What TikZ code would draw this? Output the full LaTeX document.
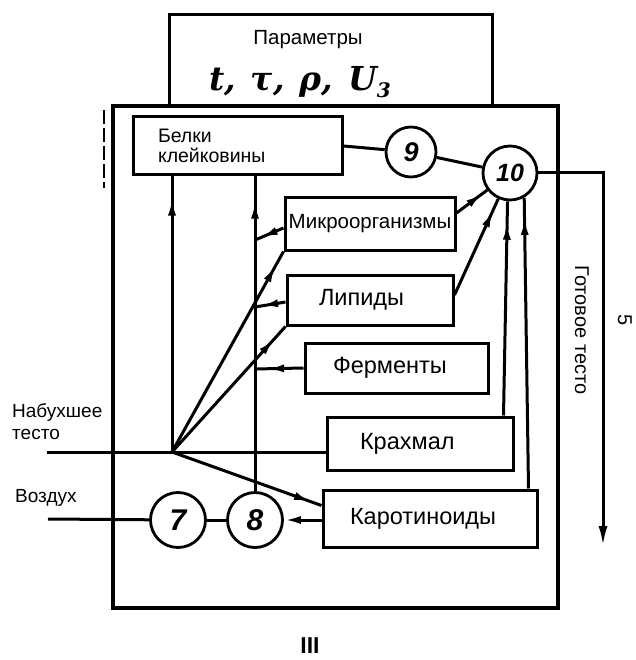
\documentclass[tikz,border=0pt]{standalone}
\usepackage{fontspec}
\setmainfont{Liberation Sans}
\newfontfamily\symserif{DejaVu Serif}
\usetikzlibrary{arrows.meta,decorations.markings,calc}
\begin{document}
\begin{tikzpicture}[x=1pt,y=-1pt,
  box/.style={draw, line width=3pt, inner sep=0pt, font=\fontsize{23.5}{26}\selectfont},
  num/.style={draw, circle, line width=2.8pt, inner sep=0pt, font=\fontsize{30}{30}\selectfont\bfseries\itshape},
  conn/.style={line width=3pt},
  lbl/.style={inner sep=0pt, font=\fontsize{19}{22}\selectfont},
  symlbl/.style={inner sep=0pt, font=\symserif\fontsize{33}{34}\selectfont\bfseries\itshape},
  tipat/.style={postaction={decorate}, decoration={markings, mark=at position #1 with {\arrow{Latex[length=17pt,width=8pt]}}}},
]
\useasboundingbox (0,0) rectangle (635,660);

% parameters box
\node[draw, line width=3pt, minimum width=323pt, minimum height=91pt, inner sep=0pt] (parbox) at (330.5,60.5) {};
\node[lbl, font=\fontsize{20.5}{22}\selectfont] (parlbl) at (308,40) {Параметры};
\node[symlbl] (parsym) at (300,82) {t,\hspace{15pt}τ,\hspace{15pt}ρ,\hspace{15pt}U\raisebox{-7pt}{\fontsize{20}{20}\selectfont 3}};

% main box
\node[draw, line width=3.4pt, minimum width=445pt, minimum height=502pt, inner sep=0pt] (mainbox) at (335.5,357) {};

% component boxes
\node[box, font=\fontsize{19.5}{20}\selectfont, text width=159pt, align=left, inner xsep=25pt, minimum height=58pt] (bel) at (237.5,146) {Белки\\клейковины};
\node[box, font=\fontsize{20.5}{22}\selectfont, minimum width=170pt, minimum height=52pt] (mic) at (370,224) {Микроорганизмы};
\node[box, text width=102pt, align=left, inner xsep=32pt, minimum height=50pt] (lip) at (370,300) {Липиды};
\node[box, text width=127pt, align=left, inner xsep=28pt, minimum height=50pt] (fer) at (396.5,368) {Ферменты};
\node[box, text width=120pt, align=left, inner xsep=33pt, minimum height=53pt] (kr) at (420,443.5) {Крахмал};
\node[box, text width=160pt, align=left, inner xsep=27pt, minimum height=57pt] (kar) at (430,518.5) {Каротиноиды};

% circles
\node[num, minimum size=55pt] (c7) at (178,520) {7};
\node[num, minimum size=55pt] (c8) at (255,520) {8};
\node[num, minimum size=50pt, font=\fontsize{27}{27}\selectfont\bfseries\itshape] (c9) at (411,152) {9};
\node[num, minimum size=54pt, font=\fontsize{25}{25}\selectfont\bfseries\itshape] (c10) at (510,173) {10};

% coordinates
\coordinate (nin) at (47,452);
\coordinate (J) at (172,452);
\coordinate (vin) at (48,519);
\coordinate (m1) at (255,240);
\coordinate (l1) at (255,307);
\coordinate (f1) at (255,369);
\coordinate (o1) at (603,173);
\coordinate (o2) at (603,546);
\coordinate (d1) at (104,110);
\coordinate (d2) at (104,188);

% connectors
\draw[conn] (nin) -- (nin -| kr.west);
\draw[conn] (vin) -- (c7);
\draw[conn] (c7) -- (c8);
\draw[conn, -{Latex[length=17pt,width=8pt]}] (kar.west |- c8) -- (c8);
\draw[conn, tipat=0.92] (J) -- (J |- bel.south);
\draw[conn, tipat=0.92] (c8) -- (c8 |- bel.south);
\draw[conn, tipat=0.93] (J) -- (mic.south west);
\draw[conn, tipat=0.9] (J) -- (lip.south west);
\draw[conn, tipat=0.93] (J) -- ($(kar.west)+(0,-13)$);
\draw[conn, tipat=0.8] ($(mic.west)+(0,4)$) -- (m1);
\draw[conn, tipat=0.8] ($(lip.west)+(0,2)$) -- (l1);
\draw[conn, tipat=0.75] (fer.west) -- (f1);
\draw[conn, tipat=0.85] ($(mic.east)+(0,-11)$) -- (c10);
\draw[conn, tipat=0.88] ($(lip.east)+(0,-5)$) -- (c10);
\draw[conn, tipat=0.9] ($(kr.north east)+(-11,0)$) -- (c10.-95);
\draw[conn, tipat=0.93] ($(kar.north east)+(-10,0)$) -- (c10.-60);
\draw[conn] (bel.east) -- (c9);
\draw[conn] (c9) -- (c10);
\draw[conn, -{Latex[length=20pt,width=9pt]}] (c10) -- (o1) -- (o2);
\draw[line width=1.2pt, dash pattern=on 14pt off 4pt] (d1) -- (d2);

% labels
\node[lbl, align=left, anchor=west] (nab) at (12,422) {Набухшее\\тесто};
\node[lbl, anchor=west] (voz) at (15,498) {Воздух};
\node[lbl, font=\fontsize{20}{22}\selectfont, rotate=-90] (got) at (582,330) {Готовое тесто};
\node[lbl, font=\fontsize{20}{22}\selectfont, rotate=-90] (five) at (625,320) {5};
\node[inner sep=0pt, font=\fontsize{23}{23}\selectfont\bfseries] (three) at (310,646) {III};
\end{tikzpicture}
\end{document}
